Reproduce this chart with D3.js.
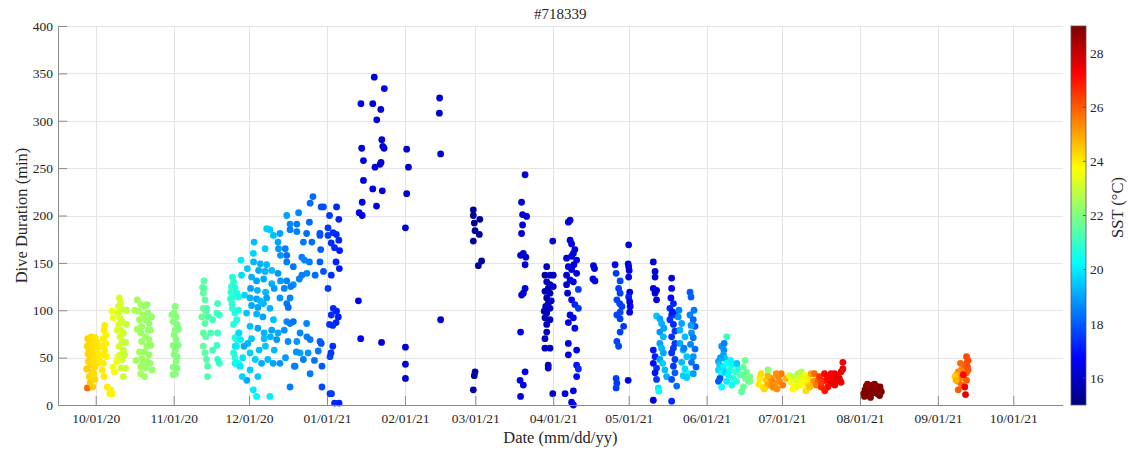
<!DOCTYPE html>
<html>
<head>
<meta charset="utf-8">
<script src="https://cdn.jsdelivr.net/npm/d3@7"></script>
<style>
  html, body { margin: 0; padding: 0; background: #fff; }
  svg text { font-family: "Liberation Serif", "Times New Roman", serif; fill: #262626; }
</style>
</head>
<body>
<svg id="chart" width="1130" height="452"></svg>
<script>
// ---------------- DATA ----------------
// Each point: [days since 10/01/20, dive duration (min), SST (°C)]
const titleText = "#718339";
const xTickDates = ["2020-10-01","2020-11-01","2020-12-01","2021-01-01","2021-02-01","2021-03-01","2021-04-01","2021-05-01","2021-06-01","2021-07-01","2021-08-01","2021-09-01","2021-10-01"];
const yTicks = [0,50,100,150,200,250,300,350,400];
const sstTicks = [16,18,20,22,24,26,28];

const octDives = [
  [-3.3,18,25.8],[-2.2,24,24.4],[-1.2,19,24.4],[-2.6,30,24.3],[-1.5,35,24.3],[-0.3,27,24.3],
  [-3.2,70,24.3],[-2.5,66,24.3],[-1.8,72,24.2],[-1.0,68,24.2],[-0.2,71,24.1],[0.6,66,24.1],
  [-3.4,62,24.3],[-2.6,58,24.3],[-1.7,63,24.2],[-0.9,60,24.2],[0.0,57,24.1],[0.9,61,24.1],
  [-3.1,54,24.3],[-2.3,50,24.3],[-1.4,55,24.2],[-0.6,52,24.2],[0.3,49,24.1],[1.2,54,24.0],
  [-2.9,46,24.3],[-2.0,42,24.3],[-1.1,45,24.2],[-0.3,40,24.2],[0.7,44,24.1],[1.5,47,24.0],
  [-3.6,38,24.4],[-0.7,33,24.2],
  [3.3,53,24.0],[3.0,44,24.0],[2.6,37,24.0],[3.3,30,24.0],
  [3.6,84,24.0],[3.3,79,24.0],[4.0,74,23.9],[3.0,70,24.0],[4.0,65,23.9],[2.6,62,24.0],[3.6,58,24.0],[4.3,51,23.9],
  [6.5,99,23.6],[6.9,92,23.6],[4.6,19,24.0],[6.0,16,23.9],[6.6,12,23.9],[5.6,12,23.9],
  [6.9,40,23.6],[7.4,35,23.6],[8.4,46,23.5],[8.8,51,23.5],
  [9.4,113,23.2],[9.9,108,23.2],[9.0,104,23.2],[10.4,101,23.1],[8.8,97,23.2],[9.6,92,23.2],[10.6,88,23.1],[9.2,85,23.2],
  [10.1,79,23.1],[11.0,76,23.0],[9.6,72,23.2],[10.5,67,23.1],[9.3,62,23.2],[11.0,58,23.0],[9.6,53,23.2],[10.5,48,23.1],
  [10.1,39,23.1],[11.0,30,23.0],[11.9,39,23.0],[11.5,53,23.0],[8.6,79,23.3],[11.9,66,22.9],[12.2,85,22.9],[12.3,100,22.9],
  [16.5,111,22.5],[18.0,106,22.4],[19.4,104,22.4],[20.4,106,22.3],[16.9,99,22.5],[18.8,95,22.4],[20.8,97,22.3],[17.4,90,22.5],
  [19.8,90,22.4],[21.2,86,22.3],[18.3,83,22.4],[20.8,79,22.3],[17.9,76,22.4],[19.8,72,22.4],[21.2,69,22.3],[18.3,67,22.4],
  [20.3,62,22.4],[17.4,56,22.5],[19.4,56,22.4],[21.2,53,22.3],[18.3,49,22.4],[20.3,46,22.4],[17.9,40,22.5],[19.8,39,22.4],
  [17.9,33,22.5],[19.4,30,22.4],[21.7,79,22.3],[18.8,44,22.4],[22.2,93,22.3],[22.0,63,22.3],[16.0,47,22.5],[21.6,44,22.3],
  [22.4,37,22.3],[15.5,100,22.6],[16.5,80,22.5]
];

const novDives = [
  [31.6,104,22.1],[31.2,97,22.1],[32.0,93,22.1],[30.8,88,22.1],[32.4,85,22.0],[31.6,79,22.1],[31.2,74,22.1],[32.0,69,22.1],
  [30.8,63,22.1],[32.8,63,22.0],[31.6,58,22.1],[31.2,53,22.1],[32.4,51,22.0],[32.0,46,22.1],[30.8,40,22.1],[32.4,39,22.0],
  [31.6,33,22.1],[30.8,32,22.1],[33.0,80,22.0],[30.3,95,22.1],
  [43.1,131,21.5],[42.5,124,21.6],[43.1,123,21.5],[42.8,118,21.6],[43.5,111,21.5],[42.8,102,21.6],[43.8,99,21.5],[42.2,93,21.7],
  [44.1,102,21.4],[43.5,86,21.5],[42.8,76,21.6],[43.8,72,21.5],[42.8,62,21.6],[43.5,55,21.5],[44.1,48,21.4],[44.5,41,21.4],
  [48.5,107,21.1],[49.2,95,21.0],[48.2,97,21.1],[48.5,76,21.1],[48.2,63,21.1],[48.5,48,21.0],[49.2,44,21.0],[46.5,90,21.2],
  [45.8,76,21.3],[46.5,58,21.2],[44.5,30,21.4],[44.8,93,21.3],
  [54.4,135,20.8],[54.8,130,20.8],[55.4,124,20.7],[53.8,119,20.9],[56.1,118,20.6],[54.8,114,20.8],[56.8,114,20.6],[54.4,102,20.8],
  [55.4,97,20.7],[56.8,100,20.6],[56.1,90,20.6],[54.8,85,20.8],[56.8,76,20.6],[55.4,71,20.7],[56.1,62,20.6],[54.8,55,20.8],
  [55.4,50,20.7],[56.8,44,20.6],[57.4,41,20.5],[56.1,69,20.6],[54.0,125,20.9],[53.6,112,20.9],[55.0,123,20.8],[54.2,107,20.9]
];

const decDives = [
  [86.4,220,18.2],[85.3,213,18.2],[90.6,209,17.9],[80.7,203,18.6],[76.0,200,19.0],[77.3,191,18.6],[80.0,191,18.4],[85.0,193,18.2],
  [68.0,186,19.6],[69.3,185,19.6],[73.3,181,19.0],[70.7,179,19.4],[77.3,185,18.5],[80.0,183,18.5],[83.9,181,18.3],[89.2,179,18.0],
  [92.4,179,17.6],[63.0,172,19.3],[72.5,172,19.0],[82.6,172,18.4],[86.0,172,18.2],[67.4,165,19.6],[72.7,165,18.8],[75.4,165,18.5],
  [89.5,164,18.0],[62.7,160,19.7],[73.5,158,18.8],[76.0,158,18.3],[82.0,156,18.5],
  [57.8,153,20.0],[62.8,151,19.3],[65.5,149,19.2],[68.0,148,19.3],[76.0,151,18.5],[78.6,146,18.4],[83.0,153,18.6],[85.0,151,18.4],
  [89.2,151,18.0],[60.3,144,19.5],[64.8,142,19.1],[67.4,141,19.2],[70.0,142,19.3],[72.5,139,18.8],[82.0,137,18.5],[84.0,139,18.6],
  [87.3,137,18.2],[90.6,141,17.9],[58.0,137,19.8],[62.0,135,19.2],[64.0,131,19.0],[66.8,133,19.1],[70.0,128,19.2],[73.5,131,18.9],
  [76.0,131,18.6],[78.6,127,18.8],[81.0,133,18.5],[61.6,123,19.0],[64.3,121,19.2],[67.6,119,19.3],[71.0,123,18.9],[75.0,123,18.6],
  [77.6,125,18.5],[59.2,116,19.7],[61.4,113,19.2],[64.0,112,19.0],[65.4,110,19.3],[68.0,113,19.0],[73.3,113,18.8],[77.3,113,18.6],
  [62.0,105,19.1],[64.5,103,19.0],[66.7,107,19.3],[69.3,102,19.2],[76.0,107,18.4],[76.6,103,18.3],
  [60.0,97,19.5],[64.0,96,19.2],[66.5,93,19.0],[70.7,90,19.4],[76.0,88,18.6],[77.3,86,18.5],[83.9,86,18.6],[61.4,83,19.3],
  [64.5,81,19.0],[67.0,76,19.2],[70.0,79,19.0],[72.5,76,19.1],[75.0,79,18.8],[78.6,88,18.3],[81.3,76,18.6],[84.0,72,18.5],
  [57.0,76,19.8],[57.6,69,20.0],[62.0,70,19.5],[60.5,65,19.3],[67.0,70,19.4],[69.5,72,19.2],[72.0,69,18.8],[76.5,67,18.7],
  [80.0,67,18.8],[85.3,69,18.4],[89.2,67,18.2],[59.0,62,19.1],[61.4,55,19.6],[65.0,58,19.4],[67.5,62,19.5],[71.0,58,19.3],
  [81.3,55,19.0],[84.5,55,18.8],[88.5,57,18.4],[55.4,44,20.3],[57.4,41,20.0],[61.4,37,19.6],[66.0,44,19.1],[73.3,44,18.8],
  [79.0,41,18.6],[85.3,33,18.4],[90.0,41,18.0],[93.2,51,17.8],[60.1,26,19.1],[62.7,16,20.0],[64.0,9,20.2],[69.3,9,20.0],
  [77.3,19,18.5],[90.0,19,17.8],[93.2,12,17.5],[55.5,62,20.0],[58.5,50,19.9],[63.5,48,19.6],[68.5,48,19.3],[75.5,50,18.9],
  [79.8,56,18.8],[82.6,48,18.5],[87.0,47,18.3],[64.5,30,19.5],[58.3,30,19.7],[70.6,44,19.0],[79.3,41,18.5],
  [95.8,209,17.3],[96.7,196,17.2],[93.0,200,17.5],[92.4,187,17.5],[94.4,182,17.4],[95.7,180,17.3],[96.7,174,17.2],[93.7,171,17.4],
  [95.0,166,17.3],[97.0,163,17.1],[95.6,151,17.2],[96.9,144,17.1],[93.7,137,17.4],[92.4,123,17.6],[94.5,102,17.3],[95.8,99,17.2],
  [96.5,93,17.1],[93.7,95,17.4],[93.0,85,17.5],[95.6,87,17.2],[94.3,84,17.3],[94.3,62,17.4],[93.6,55,17.5],[93.8,12,17.6],
  [95.0,2,17.3],[96.8,2,17.2],[89.7,209,17.8],[89.2,181,17.8],[89.7,65,17.9]
];

const winterDives = [
  [110.8,346,16.3],[114.8,334,16.2],[105.5,318,16.4],[110.2,318,16.3],[113.4,312,16.2],[111.8,301,16.3],[113.8,280,16.2],[114.2,273,16.2],
  [114.7,271,16.2],[105.8,271,16.4],[106.5,258,16.4],[111.1,251,16.3],[113.5,256,16.2],[113.1,254,16.2],[106.5,237,16.4],[110.2,228,16.3],
  [114.0,226,16.2],[106.0,214,16.4],[111.7,210,16.3],[104.8,203,16.5],[106.0,200,16.4],[104.5,110,16.5],[105.4,70,16.5],[113.7,66,16.2],
  [123.7,270,16.1],[124.4,251,16.1],[123.7,223,16.1],[123.2,187,16.2],[123.2,61,16.2],[123.2,43,16.2],[123.2,28,16.2],
  [136.8,324,16.1],[136.7,308,16.1],[137.2,265,16.1],[137.2,90,16.1],
  [150.2,206,15.4],[150.2,200,15.4],[152.8,196,15.4],[150.6,192,15.3],[150.9,184,15.4],[152.6,180,15.4],[150.2,173,15.3],[153.5,152,15.4],
  [152.2,147,15.4],[150.9,35,15.5],[150.6,31,15.5],[150.2,16,15.5]
];

const springDives = [
  [170.8,243,16.2],[169.4,214,16.1],[169.8,201,16.2],[171.4,199,16.1],[169.8,190,16.2],[169.4,181,16.2],[169.0,158,16.2],[170.1,160,16.1],
  [171.1,156,16.2],[170.8,148,16.2],[170.8,123,16.2],[169.4,116,16.3],[170.1,118,16.2],[169.0,77,16.4],[170.8,35,16.3],[168.8,26,16.4],
  [170.1,21,16.3],[169.0,9,16.4],
  [181.8,173,16.1],[179.4,146,15.8],[178.7,137,15.8],[180.7,137,15.8],[182.0,137,15.9],[179.4,130,15.8],[180.7,127,15.8],[180.0,123,15.8],
  [178.7,120,15.8],[182.0,125,15.9],[180.7,118,15.8],[179.4,113,15.8],[180.0,107,15.8],[180.7,102,15.8],[179.4,97,15.8],[178.7,92,15.8],
  [180.7,90,15.8],[179.4,85,15.8],[179.4,77,15.8],[178.7,70,15.9],[178.7,60,15.9],[180.7,60,15.9],[180.0,42,15.9],[180.0,39,15.9],
  [181.8,12,16.0],[179.0,104,15.8],[181.2,110,15.8],[178.4,99,15.8],
  [188.0,193,16.2],[188.7,195,16.2],[188.7,174,16.3],[189.3,170,16.3],[190.6,164,16.3],[190.0,160,16.3],[187.3,155,16.2],[189.3,157,16.3],
  [191.3,153,16.4],[188.0,146,16.3],[189.3,143,16.3],[187.3,137,16.2],[191.3,139,16.4],[188.7,132,16.3],[190.0,130,16.3],[187.3,127,16.2],
  [192.0,122,17.6],[189.3,111,16.8],[190.6,106,17.2],[192.0,102,17.5],[188.7,95,16.4],[190.0,92,16.5],[188.0,87,16.4],[190.6,81,16.6],
  [188.0,65,16.3],[188.0,53,16.3],[191.3,58,16.5],[191.3,42,17.0],[192.0,38,17.3],[191.3,30,16.8],[186.7,12,16.3],[190.0,15,16.4],
  [189.3,3,16.4],[190.0,0,16.4],[187.7,118,16.2],[190.2,148,16.3],
  [198.0,147,16.3],[198.4,144,16.3],[197.8,133,16.3],[198.6,131,16.3],
  [206.6,148,16.6],[207.0,139,17.5],[208.6,131,17.7],[208.0,123,17.6],[208.6,118,17.6],[207.3,111,17.7],[208.4,107,17.6],[209.3,104,17.6],
  [208.6,98,17.7],[207.3,95,17.7],[208.6,91,17.6],[210.0,83,17.5],[208.6,77,17.6],[207.3,67,17.7],[208.0,62,17.7],[207.0,28,17.6],
  [207.3,23,17.5],[207.0,18,17.6],
  [212.0,169,16.3],[211.8,149,16.4],[212.0,146,16.4],[212.0,135,16.5],[212.4,119,16.5],[212.0,114,17.2],[212.4,109,16.5],[212.4,98,16.5],
  [211.8,26,16.5],[212.2,142,16.4],[212.6,104,16.6]
];

const mayDives = [
  [221.8,151,16.2],[222.5,141,16.3],[222.5,135,16.3],[221.8,123,16.4],[223.1,121,16.3],[222.5,118,16.3],[223.1,111,16.4],[223.1,94,19.5],
  [221.8,58,17.0],[222.5,51,17.2],[221.8,44,16.8],[223.1,39,17.4],[222.5,34,17.0],[223.1,27,17.5],[223.8,18,20.0],[224.0,14.6,20.3],[221.8,5,16.5],
  [224.4,91,19.0],[225.1,86,19.2],[224.4,77,18.8],[225.8,72,19.3],[224.4,65,19.0],[225.1,60,19.3],[225.8,55,19.1],[224.4,48,19.0],
  [226.4,37,19.4],[227.1,30,19.2],[225.5,44,19.6],[226.0,81,19.0],
  [229.1,134,16.5],[229.1,123,16.7],[229.8,107,17.2],[228.4,102,17.3],[229.1,95,17.3],[230.4,95,17.6],[228.4,90,17.4],[229.8,85,17.3],
  [230.4,78,17.5],[229.1,72,17.4],[230.4,65,17.6],[229.8,60,17.5],[229.1,55,17.4],[230.4,48,17.6],[229.8,41,17.5],[230.4,34,18.0],
  [229.1,27,17.8],[231.1,20,18.2],[229.1,4,17.3],[229.5,98,17.0],[228.8,113,16.8],
  [231.7,93,18.8],[233.1,86,19.0],[232.4,79,19.2],[234.4,72,19.4],[232.4,65,19.0],[233.7,58,19.2],[235.1,51,19.5],[233.1,45,19.3],
  [234.4,38,19.8],[233.7,31,19.6],[235.7,33,20.2],[235.1,29,19.6],[232.0,100,18.5],[234.0,60,18.5],
  [236.4,119,18.0],[236.8,114,18.0],[236.4,95,18.6],[237.7,90,18.2],[238.4,83,18.0],[237.0,76,18.8],[237.7,71,18.4],[236.6,64,18.6],
  [238.4,59,18.2],[237.7,51,18.8],[237.0,45,18.4],[238.8,40,18.0],[237.7,33,18.9],[238.0,100,18.4],[236.8,84,18.9]
];

const summerDives = [
  [251.0,72,21.0],
  [249.0,62,18.8],[249.9,58,18.7],[249.7,53,19.0],[250.3,49,19.4],[247.7,46,19.2],[248.3,42,19.6],[249.7,40,20.2],[247.7,37,19.8],
  [249.0,33,20.2],[248.3,28,17.8],[247.7,25,18.0],[249.0,19,20.3],[250.0,65,18.5],[248.5,50,19.0],[250.5,35,19.6],
  [251.0,44,20.5],[253.0,42,20.3],[252.3,37,20.7],[251.6,32,20.2],[253.6,28,20.6],[251.0,25,20.0],[253.0,21,20.4],[254.9,25,20.8],
  [254.3,35,21.0],[255.6,39,20.5],[256.3,32,21.0],[255.0,44,19.5],[252.5,47,20.2],
  [258.3,47,21.8],[257.6,40,21.7],[258.9,35,21.8],[256.9,32,21.6],[260.2,30,21.9],[259.6,25,21.8],[257.6,19,21.7],[256.9,14,21.6],
  [260.2,25,21.9],[258.5,28,21.8],
  [264.1,28,24.0],[263.8,22,24.0],[265.4,19,24.1],[264.7,33,24.2],[266.7,26,24.5],[267.4,21,25.0],[268.7,28,25.3],[269.4,24,25.4],
  [270.0,21,25.2],[271.4,30,25.5],[272.0,25,25.4],[272.7,33,25.6],[270.7,33,25.3],[267.4,31,24.8],[273.3,21,25.6],[269.4,19,25.4],
  [267.4,37,22.2],[266.0,17,24.3],[271.0,17,25.3],
  [274.7,28,24.8],[276.0,31,23.2],[276.7,24,23.6],[278.0,30,23.0],[279.4,33,22.6],[280.7,35,22.8],[280.0,28,23.4],[281.3,24,23.6],
  [282.0,31,23.8],[283.3,28,24.0],[280.7,21,23.8],[278.7,19,23.5],[283.3,21,24.2],[284.6,33,25.0],[277.4,17,23.8],[282.5,15,24.2],
  [279.0,26,23.3],[285.5,25,25.2],[284.0,19,24.6],
  [285.9,33,25.8],[287.3,26,26.0],[286.6,21,25.6],[287.9,30,26.6],[289.2,25,27.0],[288.6,19,26.8],[289.9,33,27.2],[290.6,26,27.2],
  [291.2,30,27.3],[292.5,23,27.4],[293.2,28,27.4],[293.9,33,27.5],[294.5,26,27.5],[295.2,31,27.6],[295.8,28,27.6],[296.5,35,27.6],
  [297.2,38,27.5],[297.2,45,27.4],[296.5,24,27.5],[291.2,19,27.2],[292.5,33,27.3],[288.6,24,26.5],[294.0,21,27.5],[290.0,15,27.0],
  [305.5,12,28.9],[306.0,16,28.9],[306.5,20,28.8],[307.0,14,29.0],[307.5,18,28.9],[308.0,11,29.0],[308.5,15,28.9],[309.0,21,28.8],
  [309.5,13,29.0],[310.0,17,28.9],[310.5,20,28.9],[311.0,12,29.0],[311.5,16,28.9],[312.0,19,28.9],[312.5,14,29.0],[307.0,22,28.8],
  [309.8,22,28.8],[305.8,9,29.0],[311.8,10,29.0],[308.2,8,29.0],
  [346.4,51,26.3],[347.0,47,26.2],[346.4,44,26.2],[345.7,41,26.0],[347.0,37,26.0],[346.4,34,25.9],[345.1,30,25.8],[346.4,26,26.0],
  [344.4,37,25.5],[343.1,35,25.3],[342.5,32,25.0],[343.8,28,25.4],[343.1,25,25.6],[344.4,21,25.8],[343.1,16,26.0],[345.7,19,27.5],
  [346.0,11,27.6],[341.8,30,24.4],[345.1,32,27.2],[342.2,26,24.8],[344.0,44,25.8],[346.8,40,26.2]
];

// ---------------- CHART ----------------
const dives = [].concat(octDives, novDives, decDives, winterDives, springDives, mayDives, summerDives);
const DAY = 864e5;
const origin = Date.UTC(2020, 9, 1);
const toDate = d => new Date(origin + d * DAY);

const svg = d3.select("#chart");
const M = { left: 58, right: 1062.7, top: 26, bottom: 405 };

const x = d3.scaleUtc()
  .domain([new Date(origin - 15 * DAY), new Date(Date.UTC(2021, 9, 1) + 19.65 * DAY)])
  .range([M.left, M.right]);
const y = d3.scaleLinear().domain([0, 400]).range([M.bottom, M.top]);

function jet(t) {
  const c = v => Math.max(0, Math.min(1, v));
  const r = c(Math.min(4 * t - 1.5, -4 * t + 4.5));
  const g = c(Math.min(4 * t - 0.5, -4 * t + 3.5));
  const b = c(Math.min(4 * t + 0.5, -4 * t + 2.5));
  return d3.rgb(r * 255, g * 255, b * 255).toString();
}
const sstDomain = [15, 29];
const color = v => jet((v - sstDomain[0]) / (sstDomain[1] - sstDomain[0]));

const xTicks = xTickDates.map(s => new Date(s + "T00:00:00Z"));
const fmt = d3.utcFormat("%m/%d/%y");

// grid
const grid = svg.append("g").attr("stroke", "#e4e4e4").attr("stroke-width", 1);
grid.selectAll("line.gy").data(yTicks).join("line")
  .attr("x1", M.left).attr("x2", M.right)
  .attr("y1", d => Math.round(y(d)) + 0.5).attr("y2", d => Math.round(y(d)) + 0.5);
grid.selectAll("line.gx").data(xTicks).join("line")
  .attr("y1", M.top).attr("y2", M.bottom)
  .attr("x1", d => Math.round(x(d)) + 0.5).attr("x2", d => Math.round(x(d)) + 0.5);

// points
svg.append("g").selectAll("circle").data(dives).join("circle")
  .attr("cx", d => x(toDate(d[0])))
  .attr("cy", d => y(d[1]))
  .attr("r", 3.4)
  .attr("fill", d => color(d[2]));

// axes
const xAxis = d3.axisBottom(x).tickValues(xTicks).tickFormat(fmt).tickSizeInner(-9).tickSizeOuter(0).tickPadding(6);
const gx = svg.append("g").attr("transform", `translate(0,${M.bottom})`).call(xAxis);
const yAxis = d3.axisLeft(y).tickValues(yTicks).tickSizeInner(-9).tickSizeOuter(0).tickPadding(5);
const gy = svg.append("g").attr("transform", `translate(${M.left},0)`).call(yAxis);
[gx, gy].forEach(g => {
  g.select(".domain").attr("stroke", "#8a8a8a");
  g.selectAll(".tick line").attr("stroke", "#8a8a8a");
  g.selectAll(".tick text").attr("font-size", 13.5).attr("fill", "#262626")
    .style("font-family", '"Liberation Serif", serif');
});
gx.selectAll(".tick text").attr("dy", "0.9em");

// labels
svg.append("text").attr("x", (M.left + M.right) / 2).attr("y", 19)
  .attr("text-anchor", "middle").attr("font-size", 15).text(titleText);
svg.append("text").attr("x", (M.left + M.right) / 2).attr("y", 443)
  .attr("text-anchor", "middle").attr("font-size", 16.5).text("Date (mm/dd/yy)");
svg.append("text").attr("transform", `translate(27,${(M.top + M.bottom) / 2}) rotate(-90)`)
  .attr("text-anchor", "middle").attr("font-size", 16.5).text("Dive Duration (min)");

// colorbar
const cb = { x: 1071, w: 15, top: M.top, bottom: M.bottom };
const cScale = d3.scaleLinear().domain(sstDomain).range([cb.bottom, cb.top]);
const defs = svg.append("defs");
const grad = defs.append("linearGradient").attr("id", "jetGrad")
  .attr("x1", 0).attr("y1", 1).attr("x2", 0).attr("y2", 0);
d3.range(0, 1.0001, 1 / 64).forEach(t => {
  grad.append("stop").attr("offset", t).attr("stop-color", jet(t));
});
svg.append("rect").attr("x", cb.x).attr("y", cb.top).attr("width", cb.w).attr("height", cb.bottom - cb.top)
  .attr("fill", "url(#jetGrad)").attr("stroke", "#555").attr("stroke-width", 0.8);
const cg = svg.append("g");
cg.selectAll("line").data(sstTicks).join("line")
  .attr("x1", cb.x + cb.w - 3).attr("x2", cb.x + cb.w)
  .attr("y1", d => cScale(d)).attr("y2", d => cScale(d))
  .attr("stroke", "#444").attr("stroke-width", 0.8);
cg.selectAll("text").data(sstTicks).join("text")
  .attr("x", cb.x + cb.w + 4).attr("y", d => cScale(d)).attr("dy", "0.35em")
  .attr("font-size", 13.5).text(d => d);
svg.append("text").attr("transform", `translate(1123,${(cb.top + cb.bottom) / 2 - 8}) rotate(-90)`)
  .attr("text-anchor", "middle").attr("font-size", 16.5).text("SST (°C)");
</script>
</body>
</html>
